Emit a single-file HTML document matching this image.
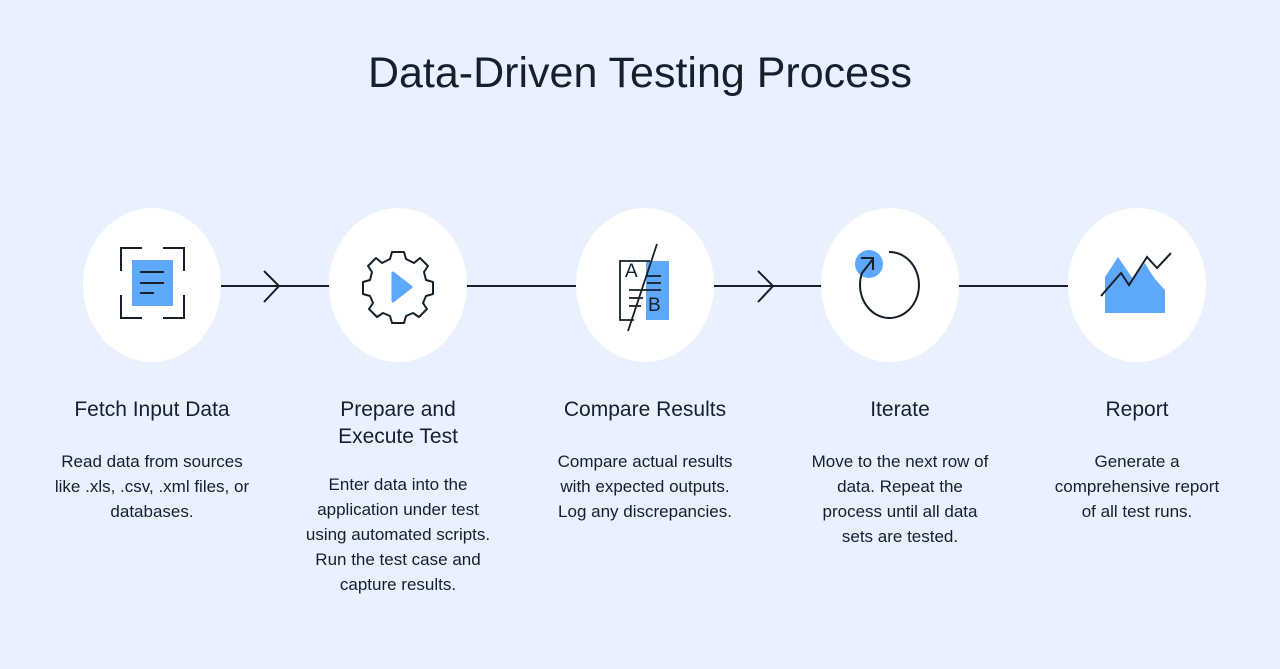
<!DOCTYPE html>
<html><head><meta charset="utf-8"><style>
body{margin:0;width:1280px;height:669px;background:#e8f1fd;font-family:"Liberation Sans",sans-serif;color:#15202b;position:relative;overflow:hidden}
.t{position:absolute;left:0;width:1280px;top:47px;text-align:center;font-size:43px;line-height:52px}
.h{position:absolute;width:260px;text-align:center;font-size:21px;line-height:27px}
.b{position:absolute;width:260px;text-align:center;font-size:17px;line-height:25px;white-space:nowrap}
svg{position:absolute;left:0;top:0}
</style></head><body>
<svg width="1280" height="669">
<g stroke="#15202b" stroke-width="2" fill="none">
<line x1="221" y1="286" x2="329" y2="286"/><polyline points="264,271 279,286 264,302"/>
<line x1="467" y1="286" x2="576" y2="286"/>
<line x1="713" y1="286" x2="822" y2="286"/><polyline points="758,271 773,286 758,302"/>
<line x1="959" y1="286" x2="1068" y2="286"/>
</g>
<g fill="#fff">
<ellipse cx="152" cy="285" rx="69" ry="77"/>
<ellipse cx="398" cy="285" rx="69" ry="77"/>
<ellipse cx="645" cy="285" rx="69" ry="77"/>
<ellipse cx="890" cy="285" rx="69" ry="77"/>
<ellipse cx="1137" cy="285" rx="69" ry="77"/>
</g>
<!-- icon1 -->
<rect x="132" y="260" width="41" height="46" fill="#5ea8fb"/>
<g stroke="#15202b" stroke-width="2" fill="none">
<polyline points="121,271 121,248 142,248"/><polyline points="163,248 184,248 184,271"/>
<polyline points="121,295 121,318 142,318"/><polyline points="163,318 184,318 184,295"/>
<line x1="140" y1="272" x2="164" y2="272"/><line x1="140" y1="283" x2="164" y2="283"/><line x1="140" y1="293" x2="154" y2="293"/>
</g>
<!-- icon2 gear -->
<g transform="translate(398,286)">
<path d="M-6,-34 L6,-34 L8,-27 L16,-23 L22,-28 L30,-20 L26,-14 L28,-6 L35,-4 L35,8 L28,10 L25,17 L29,23 L21,31 L15,27 L8,30 L6,37 L-6,37 L-8,30 L-15,27 L-21,31 L-29,23 L-25,17 L-28,10 L-35,8 L-35,-4 L-28,-6 L-26,-14 L-30,-20 L-22,-28 L-16,-23 L-8,-27 Z" fill="#fff" stroke="#15202b" stroke-width="2" stroke-linejoin="round"/>
<path d="M-5,-13 L13,1 L-5,15 Z" fill="#5ea8fb" stroke="#5ea8fb" stroke-width="3" stroke-linejoin="round"/>
</g>
<!-- icon3 -->
<rect x="646" y="261" width="23" height="59" fill="#5ea8fb"/>
<g stroke="#15202b" stroke-width="1.8" fill="none">
<polyline points="650,261 620,261 620,320 634,320"/>
<line x1="657" y1="244" x2="628" y2="331"/>
<line x1="647" y1="283" x2="661" y2="283"/><line x1="647" y1="276" x2="661" y2="276"/>
<line x1="629" y1="290" x2="661" y2="290"/><line x1="629" y1="298" x2="643" y2="298"/><line x1="629" y1="306" x2="641" y2="306"/>
</g>
<text x="625" y="277" font-size="19" fill="#15202b" font-family="Liberation Sans">A</text>
<text x="648" y="311" font-size="19" fill="#15202b" font-family="Liberation Sans">B</text>
<!-- icon4 -->
<circle cx="869" cy="264" r="14" fill="#5ea8fb"/>
<g stroke="#15202b" stroke-width="2" fill="none">
<path d="M889,252 A29.5,33 0 1 1 862,273 L873,259"/>
<polyline points="861,258 873,258 873,270"/>
</g>
<!-- icon5 -->
<path d="M1105,296 L1105,277 L1118,257 L1133,279 L1145,263 L1149,270 L1155,279 L1165,290 L1165,313 L1105,313 Z" fill="#5ea8fb"/>
<polyline points="1101,296 1121,273 1129,285 1147,257 1157,268 1171,253" stroke="#15202b" stroke-width="2" fill="none"/>
</svg>
<div class="t">Data-Driven Testing Process</div>
<div class="h" style="left:22px;top:396px">Fetch Input Data</div>
<div class="b" style="left:22px;top:449px">Read data from sources<br>like .xls, .csv, .xml files, or<br>databases.</div>
<div class="h" style="left:268px;top:396px">Prepare and<br>Execute Test</div>
<div class="b" style="left:268px;top:472px">Enter data into the<br>application under test<br>using automated scripts.<br>Run the test case and<br>capture results.</div>
<div class="h" style="left:515px;top:396px">Compare Results</div>
<div class="b" style="left:515px;top:449px">Compare actual results<br>with expected outputs.<br>Log any discrepancies.</div>
<div class="h" style="left:770px;top:396px">Iterate</div>
<div class="b" style="left:770px;top:449px">Move to the next row of<br>data. Repeat the<br>process until all data<br>sets are tested.</div>
<div class="h" style="left:1007px;top:396px">Report</div>
<div class="b" style="left:1007px;top:449px">Generate a<br>comprehensive report<br>of all test runs.</div>
</body></html>
